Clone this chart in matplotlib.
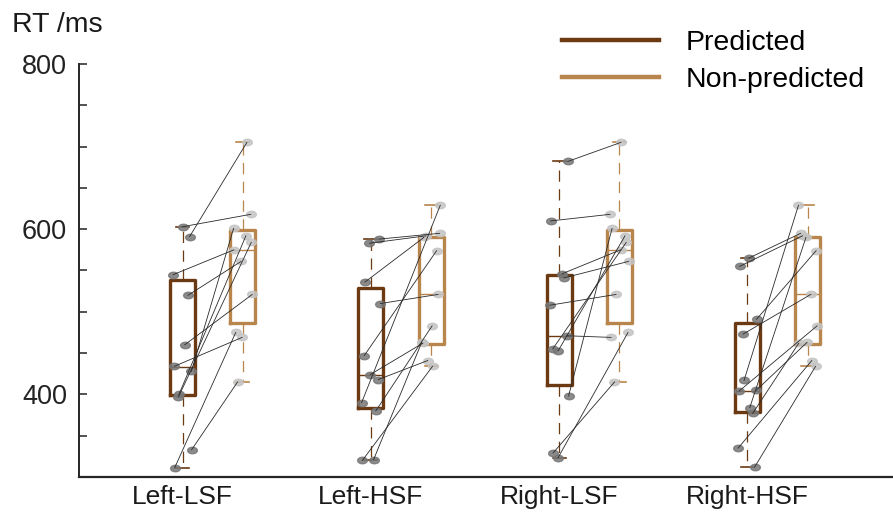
import matplotlib.pyplot as plt
import numpy as np
from matplotlib.path import Path

conditions = ["Left-LSF", "Left-HSF", "Right-LSF", "Right-HSF"]

# reaction times per subject (ms), paired predicted / non-predicted
pred_rt = [
    [603, 591, 545, 520, 460, 434, 428, 400, 397, 333, 311],
    [588, 583, 536, 510, 447, 424, 418, 390, 380, 321, 320],
    [682, 610, 546, 541, 508, 471, 453, 455, 398, 329, 323],
    [565, 555, 491, 473, 417, 405, 404, 384, 377, 335, 312],
]
nonpred_rt = [
    [618, 705, 575, 561, 521, 469, 601, 592, 584, 415, 475],
    [595, 592, 590, 521, 574, 462, 441, 629, 483, 463, 434],
    [705, 618, 575, 561, 521, 469, 592, 584, 601, 415, 475],
    [595, 592, 574, 521, 629, 463, 483, 590, 462, 441, 434],
]

# box summaries: whisker low, Q1, median, Q3, whisker high
pred_box = [
    [311, 399, 433, 538, 603],
    [320, 383, 423, 529, 588],
    [323, 411, 471, 545, 682],
    [312, 379, 404, 486, 565],
]
nonpred_box = [
    [415, 487, 575, 599, 705],
    [434, 461, 521, 591, 629],
    [415, 487, 575, 599, 705],
    [434, 461, 521, 591, 629],
]

c_pred = "#6b3a12"
c_non = "#b8854d"

plt.rcParams["font.family"] = ["Liberation Sans", "DejaVu Sans"]

fig = plt.figure(figsize=(8.93, 5.15), dpi=100)
ax = fig.add_axes([79 / 893, 38 / 515, 814 / 893, 413 / 515])

x = np.arange(1, 5)
offset = 0.32


def stats(b):
    return dict(whislo=b[0], q1=b[1], med=b[2], q3=b[3], whishi=b[4], fliers=[])


def draw_boxes(boxes, pos, color):
    ax.bxp([stats(b) for b in boxes], positions=pos, widths=0.133,
           capwidths=0.07, showfliers=False, manage_ticks=False,
           boxprops=dict(color=color, linewidth=2.4),
           medianprops=dict(color=color, linewidth=1.0),
           whiskerprops=dict(color=color, linewidth=0.9, linestyle=(0, (9, 6))),
           capprops=dict(color=color, linewidth=1.2),
           zorder=2)


draw_boxes(pred_box, x, c_pred)
draw_boxes(nonpred_box, x + offset, c_non)

circ = Path.unit_circle()
ellipse = Path(circ.vertices * [1.5, 1.0], circ.codes)

for i in range(4):
    n = len(pred_rt[i])
    jit = 0.05 * np.sin(np.arange(n) * 2.3 + i)
    jit2 = 0.05 * np.sin(np.arange(n) * 1.7 + i + 1)
    xp = x[i] + jit
    xn = x[i] + offset + jit2
    for a, b, ya, yb in zip(xp, xn, pred_rt[i], nonpred_rt[i]):
        ax.plot([a, b], [ya, yb], color="#2a2a2a", lw=0.6, zorder=4)
    ax.plot(xp, pred_rt[i], ls="none", marker=ellipse, ms=7,
            color="#777777", alpha=0.85, zorder=3)
    ax.plot(xn, nonpred_rt[i], ls="none", marker=ellipse, ms=7,
            color="#c4c4c4", alpha=0.85, zorder=3)

ax.set_xlim(0.45, 4.773)
ax.set_ylim(300, 800)
ax.set_yticks(np.arange(350, 801, 50))
ax.set_yticklabels(["" if v % 200 else str(v) for v in range(350, 801, 50)])
ax.set_xticks(x)
ax.set_xticklabels(conditions, fontsize=19, color="#1a1a1a")

ax.tick_params(axis="y", direction="in", length=6, width=1.1, pad=8.5,
               labelsize=19.5, colors="#222222")
ax.tick_params(axis="x", length=0, pad=6)

for s in ["top", "right"]:
    ax.spines[s].set_visible(False)
ax.spines["left"].set_linewidth(1.4)
ax.spines["bottom"].set_linewidth(1.6)
ax.spines["left"].set_color("#262626")
ax.spines["bottom"].set_color("#262626")

fig.text(12 / 893, 1 - 25 / 515, "RT /ms", fontsize=20.5, va="center",
         ha="left", color="#1a1a1a")

h1, = ax.plot([], [], color=c_pred, lw=3.2)
h2, = ax.plot([], [], color=c_non, lw=3.2)
fig.legend([h1, h2], ["Predicted", "Non-predicted"], loc="upper left",
           bbox_to_anchor=(562 / 893, 1 - 30 / 515), frameon=False,
           fontsize=20.5, handlelength=3.4, handletextpad=0.95,
           labelspacing=0.4, borderpad=0, borderaxespad=0)

fig.savefig("out.png", dpi=100)
